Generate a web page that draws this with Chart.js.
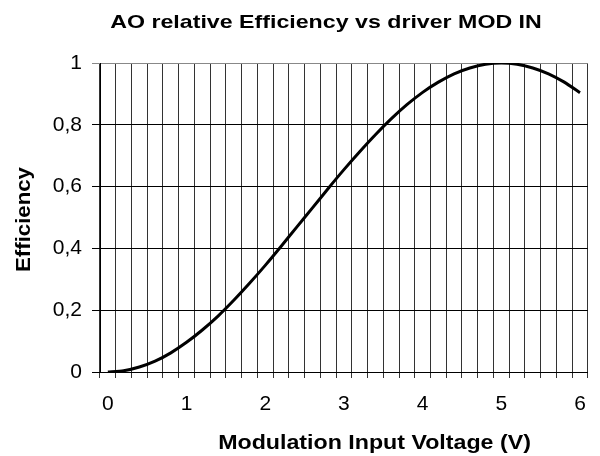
<!DOCTYPE html>
<html><head><meta charset="utf-8">
<script src="https://cdn.jsdelivr.net/npm/chart.js@4"></script>
<style>html,body{margin:0;padding:0;background:#fff}#wrap{width:600px;height:456px;position:relative}</style>
</head><body><div id="wrap"><canvas id="c" width="600" height="456"></canvas></div>
<script>
const chartTitle = 'AO relative Efficiency vs driver MOD IN';
const xTitle = 'Modulation Input Voltage (V)';
const yTitle = 'Efficiency';
const voltages = [0,0.2,0.4,0.6,0.8,1,1.2,1.4,1.6,1.8,2,2.2,2.4,2.6,2.8,3,3.2,3.4,3.6,3.8,4,4.2,4.4,4.6,4.8,5,5.2,5.4,5.6,5.8,6];
const efficiency = [0,0.004,0.016,0.035,0.062,0.096,0.136,0.181,0.232,0.287,0.345,0.406,0.469,0.531,0.594,0.655,0.713,0.768,0.819,0.865,0.905,0.938,0.965,0.984,0.996,1,0.996,0.984,0.965,0.938,0.904];
const yTickValues = [0,0.2,0.4,0.6,0.8,1];
const yTickLabels = ['0','0,2','0,4','0,6','0,8','1'];

const FONT = "'Liberation Sans', Arial, sans-serif";

function stretchedText(ctx, text, x, y, size, sx) {
  ctx.save();
  ctx.font = 'bold ' + size + 'px ' + FONT;
  ctx.textAlign = 'center';
  ctx.textBaseline = 'alphabetic';
  ctx.translate(x, y);
  ctx.scale(sx, 1);
  ctx.fillText(text, 0, 0);
  ctx.restore();
}

const titlesPlugin = {
  id: 'titles',
  afterDraw(chart) {
    const ctx = chart.ctx;
    ctx.save();
    ctx.fillStyle = '#000';
    stretchedText(ctx, chartTitle, 326, 27.5, 19, 1.22);
    stretchedText(ctx, xTitle, 374.5, 449, 20, 1.16);
    ctx.translate(29.5, 219.5);
    ctx.rotate(-Math.PI / 2);
    stretchedText(ctx, yTitle, 0, 0, 20, 1.11);
    ctx.restore();
  }
};

new Chart(document.getElementById('c'), {
  type: 'line',
  data: {
    labels: voltages.map(String),
    datasets: [{
      data: efficiency,
      borderColor: '#000',
      borderWidth: 3,
      pointRadius: 0,
      tension: 0.2,
      fill: false
    }]
  },
  options: {
    responsive: false,
    animation: false,
    events: [],
    layout: { padding: { left: 0, right: 10, top: 63, bottom: 0 } },
    plugins: { legend: { display: false }, title: { display: false }, tooltip: { enabled: false } },
    scales: {
      x: {
        type: 'category',
        offset: true,
        grid: {
          offset: true,
          color: (c) => c.index === voltages.length ? '#888' : '#333',
          lineWidth: 1,
          tickLength: 6
        },
        border: { display: true, color: '#000' },
        ticks: {
          autoSkip: false,
          maxRotation: 0,
          minRotation: 0,
          color: '#000',
          padding: 14,
          font: { family: FONT, size: 21 },
          callback: (v, i) => Number.isInteger(voltages[i]) ? String(voltages[i]) : ''
        },
        afterFit: (s) => { s.height = 84; }
      },
      y: {
        min: 0, max: 1,
        afterBuildTicks: (s) => { s.ticks = yTickValues.map(v => ({ value: v })); },
        grid: {
          color: (c) => (c.tick && c.tick.value === 1) ? '#888' : '#000',
          lineWidth: 1,
          tickLength: 8
        },
        border: { display: true, color: '#000' },
        ticks: {
          color: '#000',
          padding: 10,
          font: { family: FONT, size: 21 },
          callback: (v, i) => yTickLabels[i]
        },
        afterFit: (s) => { s.width = 100; }
      }
    }
  },
  plugins: [titlesPlugin]
});
</script>
</body></html>
